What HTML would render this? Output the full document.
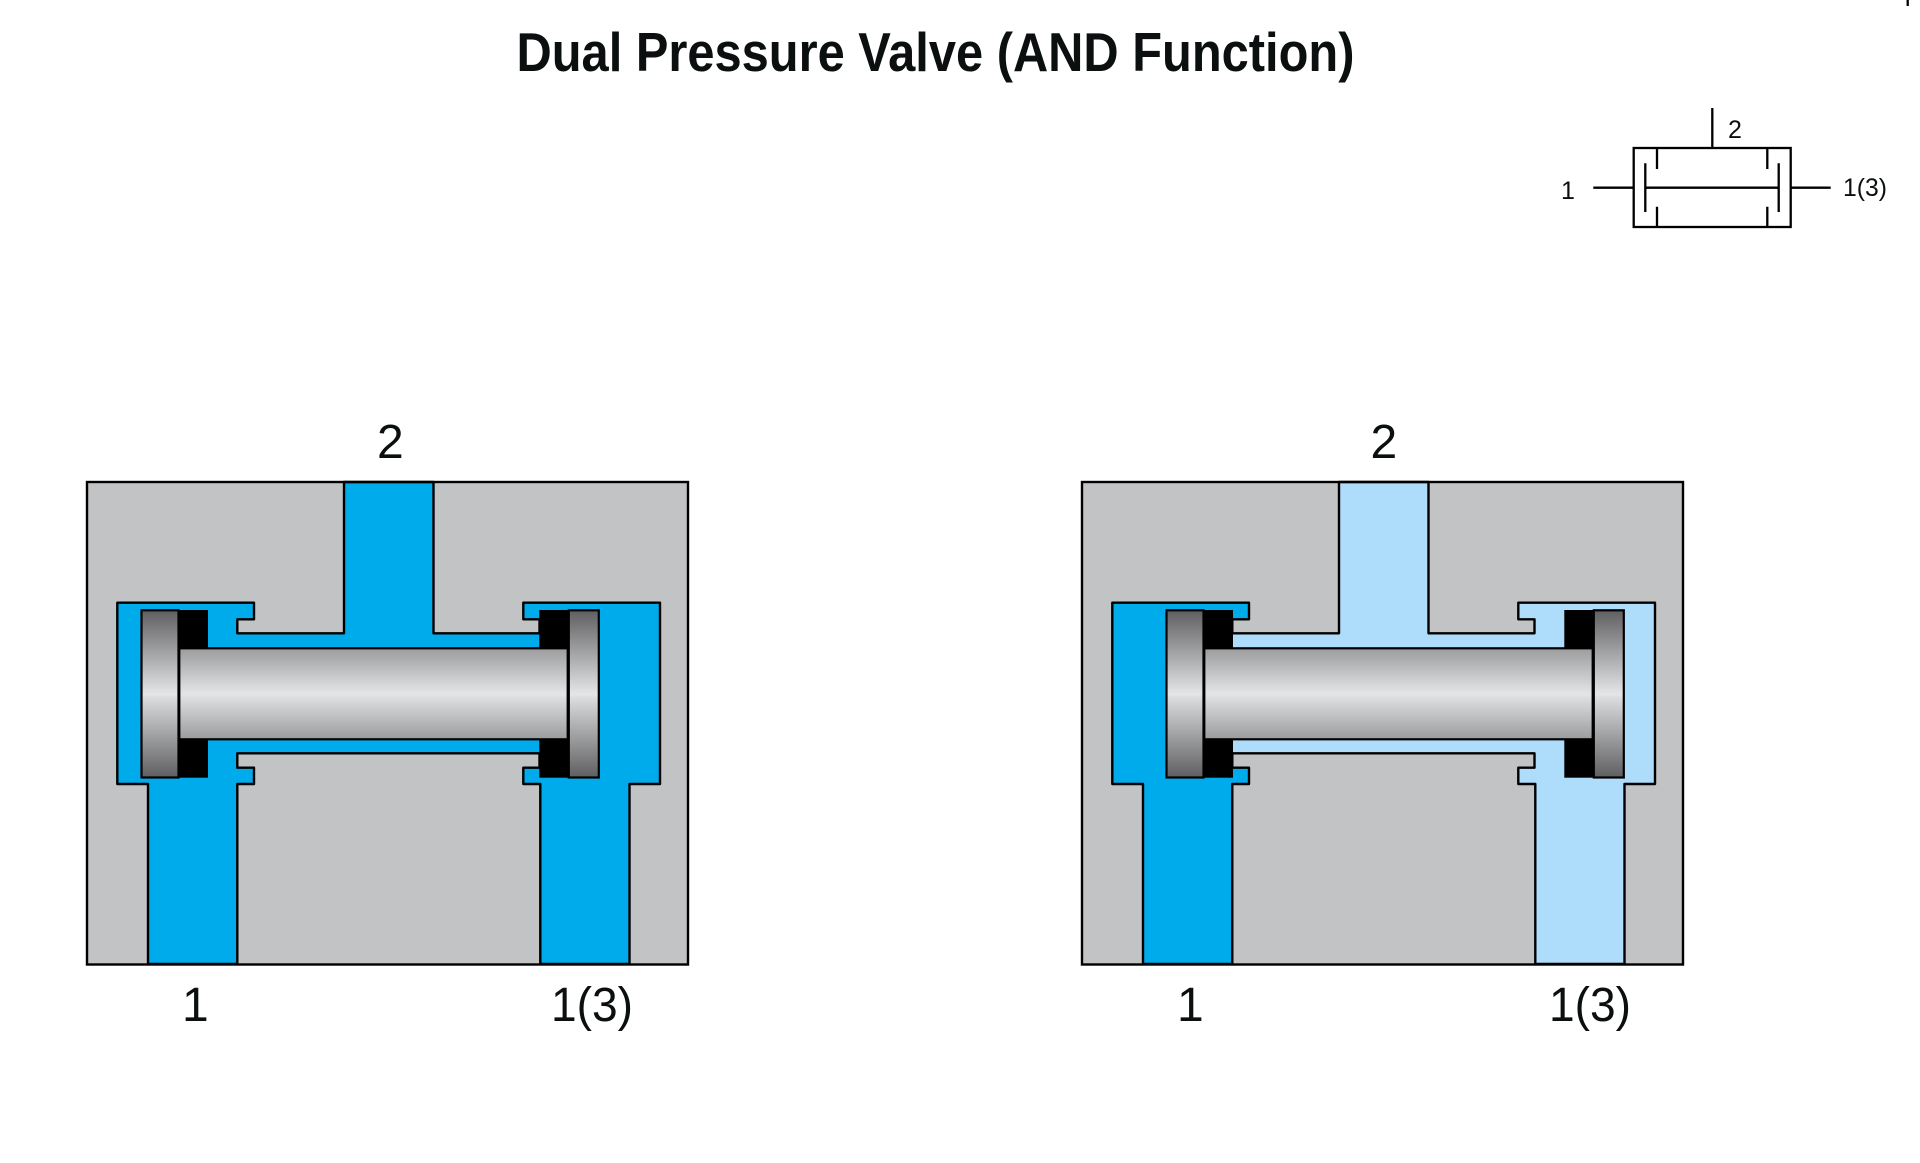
<!DOCTYPE html>
<html><head><meta charset="utf-8"><style>
html,body{margin:0;padding:0;background:#fff}
svg{display:block}
text{font-family:"Liberation Sans",sans-serif;fill:#0b0f0f}
</style></head><body>
<svg width="1920" height="1163" viewBox="0 0 1920 1163" xmlns="http://www.w3.org/2000/svg">
<defs>
<linearGradient id="sh" x1="0" y1="0" x2="0" y2="1">
<stop offset="0" stop-color="#9b9c9e"/><stop offset=".5" stop-color="#e4e5e7"/><stop offset=".56" stop-color="#dadbdd"/><stop offset="1" stop-color="#9b9c9e"/>
</linearGradient>
<linearGradient id="pl" x1="0" y1="0" x2="0" y2="1">
<stop offset="0" stop-color="#5f5f61"/><stop offset=".5" stop-color="#e4e5e7"/><stop offset=".53" stop-color="#d9dadc"/><stop offset="1" stop-color="#5f5f61"/>
</linearGradient>
<g id="pis">
<rect x="178" y="610" width="30" height="38.5" fill="#000"/>
<rect x="178" y="739" width="30" height="38.7" fill="#000"/>
<rect x="539.3" y="610" width="30" height="38.5" fill="#000"/>
<rect x="539.3" y="739" width="30" height="38.7" fill="#000"/>
<rect x="141.5" y="610.3" width="37" height="167.2" fill="url(#pl)" stroke="#000" stroke-width="2.2"/>
<rect x="568.8" y="610.3" width="30" height="167.2" fill="url(#pl)" stroke="#000" stroke-width="2.2"/>
<rect x="179.3" y="648.3" width="388.4" height="91" fill="url(#sh)" stroke="#000" stroke-width="2.2"/>
</g>
<path id="flow" d="M344,482V633.3H237.3V619.3H254V602.7H117.3V784H148V964H237.3V784H254V767.7H237.3V753.3H539.5V767.7H523.3V784H540.3V964H629.5V784H660V602.7H523.3V619.3H539.5V633.3H433.5V482Z"/>
</defs>

<text x="516.5" y="71" font-size="55" font-weight="700" textLength="838" lengthAdjust="spacingAndGlyphs">Dual Pressure Valve (AND Function)</text>

<!-- left valve -->
<rect x="87" y="482" width="601" height="482.5" fill="#c2c3c5"/>
<use href="#flow" fill="#00abec"/>
<use href="#flow" fill="none" stroke="#000" stroke-width="2.4" stroke-linejoin="round"/>
<rect x="87" y="482" width="601" height="482.5" fill="none" stroke="#000" stroke-width="2.4"/>
<use href="#pis"/>

<!-- right valve -->
<g transform="translate(995,0)">
<rect x="87" y="482" width="601" height="482.5" fill="#c2c3c5"/>
<use href="#flow" fill="#aedcfb"/>
<path d="M117.3,602.7H254V619.3H237.3V767.7H254V784H237.3V964H148V784H117.3Z" fill="#00abec"/>
<use href="#flow" fill="none" stroke="#000" stroke-width="2.4" stroke-linejoin="round"/>
<rect x="87" y="482" width="601" height="482.5" fill="none" stroke="#000" stroke-width="2.4"/>
<use href="#pis" x="30"/>
</g>

<!-- labels -->
<text x="377" y="458" font-size="48">2</text>
<text x="182" y="1021" font-size="48">1</text>
<text x="551" y="1021" font-size="48" textLength="82" lengthAdjust="spacingAndGlyphs">1(3)</text>
<text x="1379" y="458" font-size="48" transform="translate(-8.5,0)">2</text>
<text x="1177" y="1021" font-size="48">1</text>
<text x="1549" y="1021" font-size="48" textLength="82" lengthAdjust="spacingAndGlyphs">1(3)</text>

<!-- symbol -->
<g fill="none" stroke="#000" stroke-width="2.3">
<rect x="1633.7" y="148" width="157" height="79"/>
<path d="M1712.3,108V148M1593.3,187.7H1633.7M1791,187.7H1830.7M1645.3,187.7H1778.7M1645.3,163.3V212M1778.7,163.3V212M1657,148V169M1657,206.7V227M1767.3,148V169M1767.3,206.7V227"/>
<path d="M1907.7,0V6"/>
</g>
<text x="1728" y="138" font-size="25">2</text>
<text x="1561" y="199" font-size="25">1</text>
<text x="1843" y="196" font-size="25" textLength="44" lengthAdjust="spacingAndGlyphs">1(3)</text>
</svg>
</body></html>
